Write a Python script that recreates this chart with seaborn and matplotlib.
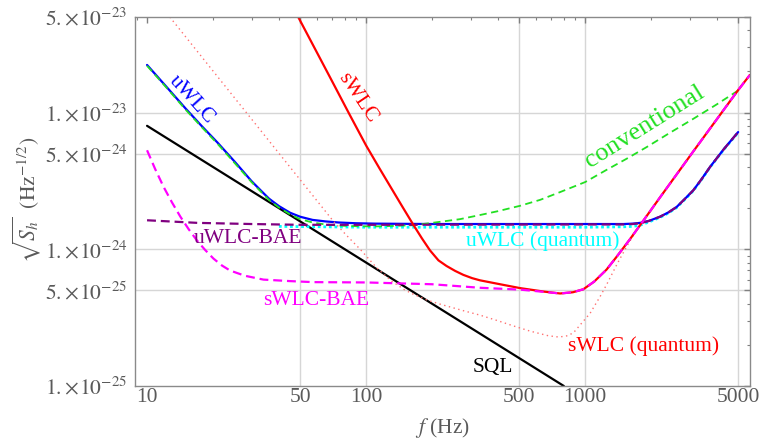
import matplotlib

matplotlib.use("Agg")
import matplotlib.pyplot as plt
import matplotlib.ticker as mticker
import seaborn as sns

# frequencies in Hz, strain noise in 1/sqrt(Hz)
sql_f = [10, 800]
sql_s = [8.0e-24, 1.0e-25]

uwlc_f = [10, 12.5, 15, 17.8, 21, 25.2, 30, 33, 36, 40, 45, 50, 57, 65, 75, 90, 110, 200,
          500, 1000, 1500, 1650, 1783, 1950, 2198, 2400, 2619, 2850, 3120, 3400, 3720, 4300,
          5000]
uwlc_s = [2.23e-23, 1.49e-23, 1.07e-23, 7.94e-24, 6.02e-24, 4.35e-24, 3.15e-24, 2.7e-24,
          2.35e-24, 2.07e-24, 1.85e-24, 1.73e-24, 1.64e-24, 1.6e-24, 1.57e-24, 1.55e-24,
          1.54e-24, 1.53e-24, 1.53e-24, 1.53e-24, 1.53e-24, 1.54e-24, 1.56e-24, 1.61e-24,
          1.73e-24, 1.86e-24, 2.04e-24, 2.33e-24, 2.7e-24, 3.25e-24, 4.0e-24, 5.4e-24, 7.2e-24]

conv_f = [10, 12.5, 15, 17.8, 21, 25.2, 30, 33, 36, 40, 45, 50, 57, 65, 75, 90, 110, 130,
          164, 200, 268, 331, 400, 505, 624, 769, 1000, 1250, 1550, 1914, 2400, 3120, 4000,
          5000]
conv_s = [2.2e-23, 1.47e-23, 1.05e-23, 7.8e-24, 5.9e-24, 4.25e-24, 3.1e-24, 2.65e-24,
          2.3e-24, 2.02e-24, 1.8e-24, 1.66e-24, 1.57e-24, 1.52e-24, 1.49e-24, 1.475e-24,
          1.47e-24, 1.48e-24, 1.5e-24, 1.56e-24, 1.66e-24, 1.78e-24, 1.9e-24, 2.08e-24,
          2.3e-24, 2.62e-24, 3.1e-24, 3.8e-24, 4.6e-24, 5.6e-24, 7.0e-24, 9.0e-24, 1.15e-23,
          1.45e-23]

uwlc_q_f = [40, 100, 1000, 1500, 1650, 1783, 1950, 2198, 2400, 2619, 2850, 3120, 3400, 3720,
            4300, 5000]
uwlc_q_s = [1.47e-24, 1.45e-24, 1.45e-24, 1.46e-24, 1.47e-24, 1.5e-24, 1.58e-24, 1.71e-24,
            1.84e-24, 2.02e-24, 2.31e-24, 2.68e-24, 3.23e-24, 3.98e-24, 5.37e-24, 7.15e-24]

uwlc_bae_f = [10, 17, 30, 50, 100, 1000, 1500, 1650, 1783, 1950, 2198, 2400, 2619, 2850,
              3120, 3400, 3720, 4300, 5000]
uwlc_bae_s = [1.63e-24, 1.56e-24, 1.53e-24, 1.51e-24, 1.51e-24, 1.52e-24, 1.52e-24, 1.53e-24,
              1.55e-24, 1.61e-24, 1.73e-24, 1.86e-24, 2.04e-24, 2.33e-24, 2.7e-24, 3.25e-24,
              4.0e-24, 5.4e-24, 7.2e-24]

swlc_bae_f = [10, 10.9, 11.9, 13, 14.2, 15.5, 16.9, 18.4, 20.1, 22, 23.9, 25.8, 28, 34, 45,
              57.5, 100, 200, 331, 505, 650, 769, 880, 982, 1100, 1253, 1400, 1600, 1783,
              2200, 3120, 5000, 5650]
swlc_bae_s = [5.3e-24, 3.85e-24, 2.86e-24, 2.2e-24, 1.73e-24, 1.4e-24, 1.16e-24, 9.9e-25,
              8.55e-25, 7.6e-25, 7.0e-25, 6.7e-25, 6.4e-25, 6.0e-25, 5.85e-25, 5.75e-25,
              5.72e-25, 5.55e-25, 5.23e-25, 5.07e-25, 4.88e-25, 4.75e-25, 4.85e-25, 5.1e-25,
              5.8e-25, 7.1e-25, 8.9e-25, 1.18e-24, 1.5e-24, 2.4e-24, 5.2e-24, 1.46e-23,
              1.88e-23]

swlc_f = [49, 68.6, 84, 100, 115, 129, 147, 164, 180, 196, 214, 233, 255, 278, 305, 331,
          409, 505, 650, 769, 880, 982, 1100, 1253, 1400, 1600, 1783, 2200, 3120, 5000, 5650]
swlc_s = [5.0e-23, 1.8e-23, 9.7e-24, 5.75e-24, 3.92e-24, 2.88e-24, 2.03e-24, 1.52e-24,
          1.2e-24, 9.8e-25, 8.3e-25, 7.55e-25, 6.95e-25, 6.5e-25, 6.15e-25, 5.93e-25,
          5.55e-25, 5.2e-25, 4.9e-25, 4.75e-25, 4.85e-25, 5.1e-25, 5.8e-25, 7.1e-25,
          8.9e-25, 1.18e-24, 1.5e-24, 2.4e-24, 5.2e-24, 1.46e-23, 1.88e-23]

swlc_q_f = [12.7, 71, 82, 94, 112, 130, 150, 164, 190, 220, 279, 331, 400, 471, 561, 680,
            760, 830, 885, 950, 1054, 1170, 1253, 1400, 1550, 1700, 1783, 2200, 3120, 5000,
            5650]
swlc_q_s = [5.0e-23, 1.6e-24, 1.25e-24, 1.0e-24, 7.3e-25, 5.9e-25, 5.05e-25, 4.7e-25,
            4.25e-25, 3.95e-25, 3.55e-25, 3.3e-25, 3.0e-25, 2.75e-25, 2.52e-25, 2.33e-25,
            2.28e-25, 2.33e-25, 2.45e-25, 2.8e-25, 3.4e-25, 4.5e-25, 5.5e-25, 7.8e-25,
            1.05e-24, 1.35e-24, 1.5e-24, 2.4e-24, 5.2e-24, 1.46e-23, 1.88e-23]

x_ticks = [10, 50, 100, 500, 1000, 5000]
x_tick_labels = ["10", "50", "100", "500", "1000", "5000"]
y_ticks = [1e-25, 5e-25, 1e-24, 5e-24, 1e-23, 5e-23]
y_tick_labels = [r"$1.\!\times\!10^{-25}$", r"$5.\!\times\!10^{-25}$", r"$1.\!\times\!10^{-24}$",
                 r"$5.\!\times\!10^{-24}$", r"$1.\!\times\!10^{-23}$", r"$5.\!\times\!10^{-23}$"]

sns.set_style("white")
plt.rcParams["font.family"] = ["Liberation Serif", "DejaVu Serif"]
plt.rcParams["mathtext.fontset"] = "stix"

GRAY = "#5a5a5a"
FS = 15.5

fig = plt.figure(figsize=(7.6, 4.43), dpi=100)
ax = fig.add_axes([135 / 760, 1 - 386 / 443, 615 / 760, 369 / 443])
ax.set_xscale("log")
ax.set_yscale("log")

for xv in [50, 100, 500, 1000, 5000]:
    ax.axvline(xv, color="#d6d6d6", lw=1.0, zorder=0)
for yv in [5e-25, 1e-24, 5e-24, 1e-23]:
    ax.axhline(yv, color="#d6d6d6", lw=1.0, zorder=0)

sns.lineplot(x=sql_f, y=sql_s, ax=ax, color="black", lw=1.6)
sns.lineplot(x=uwlc_q_f, y=uwlc_q_s, ax=ax, color="#00ffff", lw=2.0, linestyle=(0, (1, 1)))
sns.lineplot(x=uwlc_f, y=uwlc_s, ax=ax, color="#0000ff", lw=1.6)
sns.lineplot(x=conv_f, y=conv_s, ax=ax, color="#22e022", lw=1.3, linestyle=(0, (4, 2.5)))
sns.lineplot(x=uwlc_bae_f, y=uwlc_bae_s, ax=ax, color="#800080", lw=1.6, linestyle=(0, (4, 2.2)))
sns.lineplot(x=swlc_q_f, y=swlc_q_s, ax=ax, color="#ff7070", lw=1.0, linestyle=(0, (1, 2.5)))
sns.lineplot(x=swlc_f, y=swlc_s, ax=ax, color="#ff0000", lw=1.6)
sns.lineplot(x=swlc_bae_f, y=swlc_bae_s, ax=ax, color="#ff00ff", lw=1.6, linestyle=(0, (4, 2.2)))

ax.set_xlim(8.81, 5663)
ax.set_ylim(1e-25, 5e-23)

ax.text(16, 1.24e-23, "uWLC", color="#0000ff", fontsize=FS, rotation=-48,
        ha="center", va="center", rotation_mode="anchor")
ax.text(91, 1.28e-23, "sWLC", color="#ff0000", fontsize=FS, rotation=-56,
        ha="center", va="center", rotation_mode="anchor")
ax.text(1880, 7.83e-24, "conventional", color="#22e022", fontsize=19, rotation=32,
        ha="center", va="center", rotation_mode="anchor")
ax.text(28.9, 1.19e-24, "uWLC-BAE", color="#800080", fontsize=FS, ha="center", va="center")
ax.text(59, 4.2e-25, "sWLC-BAE", color="#ff00ff", fontsize=FS, ha="center", va="center")
ax.text(643, 1.15e-24, "uWLC (quantum)", color="#00ffff", fontsize=FS, ha="center", va="center")
ax.text(1858, 1.95e-25, "sWLC (quantum)", color="#ff0000", fontsize=FS, ha="center", va="center")
ax.text(380, 1.37e-25, "SQL", color="black", fontsize=FS, ha="center", va="center")

ax.xaxis.set_major_locator(mticker.FixedLocator(x_ticks))
ax.xaxis.set_major_formatter(mticker.FixedFormatter(x_tick_labels))
ax.xaxis.set_minor_locator(mticker.LogLocator(base=10, subs=range(2, 10), numticks=20))
ax.xaxis.set_minor_formatter(mticker.NullFormatter())
ax.yaxis.set_major_locator(mticker.FixedLocator(y_ticks))
ax.yaxis.set_major_formatter(mticker.FixedFormatter(y_tick_labels))
ax.yaxis.set_minor_locator(mticker.LogLocator(base=10, subs=range(2, 10), numticks=20))
ax.yaxis.set_minor_formatter(mticker.NullFormatter())

ax.tick_params(which="both", direction="in", top=True, right=True, color="#808080",
               labelcolor=GRAY, labelsize=FS)
ax.tick_params(which="major", length=4.5, width=1.0)
ax.tick_params(which="minor", length=2.5, width=0.8)
ax.tick_params(axis="x", pad=1.5)
ax.tick_params(axis="y", pad=5.5)
for sp in ax.spines.values():
    sp.set_color("#8a8a8a")
    sp.set_linewidth(1.0)

ax.set_xlabel(r"$f$ (Hz)", fontsize=FS, color=GRAY)
ax.xaxis.set_label_coords(0.5, -0.114)
ax.xaxis.label.set_va("center")
ax.set_ylabel(r"$\sqrt{S_h}\ \ (\mathrm{Hz}^{-1/2})$", fontsize=FS, color=GRAY)
ax.yaxis.set_label_coords(-0.1756, 0.504)
ax.yaxis.label.set_va("center")

fig.savefig("out.png", dpi=100)
plt.close(fig)
